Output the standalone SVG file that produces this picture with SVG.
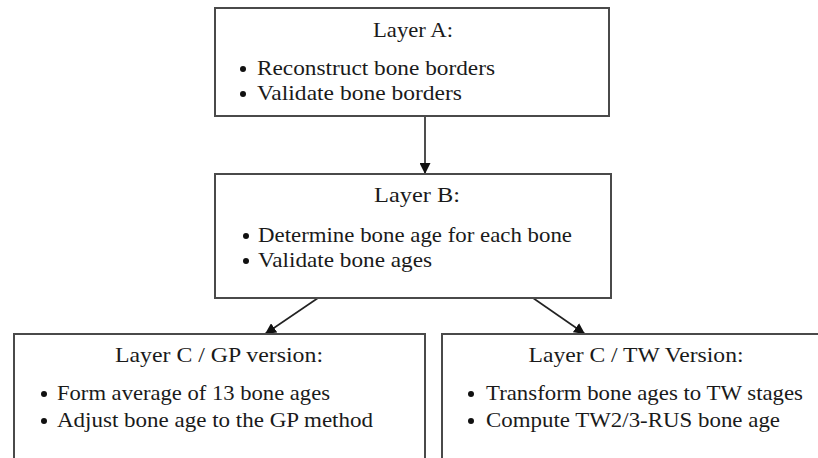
<svg xmlns="http://www.w3.org/2000/svg" width="818" height="458" viewBox="0 0 818 458">
<style>
.box{fill:#fff;stroke:#4a4a4a;stroke-width:2}
.t{font-family:"Liberation Serif","DejaVu Serif",serif;font-size:21px;fill:#1a1a1a}
.c{text-anchor:middle}
.con{stroke:#222;stroke-width:1.6;fill:none;marker-end:url(#ah)}
.b{fill:#111}
</style>
<defs>
<marker id="ah" viewBox="0 0 10 10" refX="10" refY="5" markerWidth="11" markerHeight="11" markerUnits="userSpaceOnUse" orient="auto">
<path d="M0,0 L10,5 L0,10 z" fill="#111"/>
</marker>
</defs>
<rect width="818" height="458" fill="#fff"/>
<g id="connectors">
<line class="con" x1="425" y1="116" x2="425" y2="174"/>
<line class="con" x1="318" y1="298" x2="265" y2="334"/>
<line class="con" x1="533" y1="298" x2="585" y2="334"/>
</g>
<g id="layerA">
<rect class="box" x="215" y="8" width="394" height="108"/>
<text class="t c" x="413" y="37" textLength="80" lengthAdjust="spacingAndGlyphs">Layer A:</text>
<circle class="b" cx="243" cy="69" r="3"/>
<text class="t" x="257" y="75" textLength="238" lengthAdjust="spacingAndGlyphs">Reconstruct bone borders</text>
<circle class="b" cx="243" cy="94" r="3"/>
<text class="t" x="257" y="100" textLength="205" lengthAdjust="spacingAndGlyphs">Validate bone borders</text>
</g>
<g id="layerB">
<rect class="box" x="215" y="174" width="396" height="124"/>
<text class="t c" x="417" y="202" textLength="86" lengthAdjust="spacingAndGlyphs">Layer B:</text>
<circle class="b" cx="246" cy="236" r="3"/>
<text class="t" x="258" y="242" textLength="314" lengthAdjust="spacingAndGlyphs">Determine bone age for each bone</text>
<circle class="b" cx="246" cy="261" r="3"/>
<text class="t" x="258" y="267" textLength="174" lengthAdjust="spacingAndGlyphs">Validate bone ages</text>
</g>
<g id="layerC_GP">
<rect class="box" x="14" y="334" width="411" height="140"/>
<text class="t c" x="219" y="362" textLength="208" lengthAdjust="spacingAndGlyphs">Layer C / GP version:</text>
<circle class="b" cx="44" cy="394" r="3"/>
<text class="t" x="57" y="400" textLength="273" lengthAdjust="spacingAndGlyphs">Form average of 13 bone ages</text>
<circle class="b" cx="44" cy="421" r="3"/>
<text class="t" x="57" y="427" textLength="316" lengthAdjust="spacingAndGlyphs">Adjust bone age to the GP method</text>
</g>
<g id="layerC_TW">
<rect class="box" x="442" y="334" width="400" height="140"/>
<text class="t c" x="636" y="362" textLength="215" lengthAdjust="spacingAndGlyphs">Layer C / TW Version:</text>
<circle class="b" cx="471" cy="394" r="3"/>
<text class="t" x="486" y="400" textLength="317" lengthAdjust="spacingAndGlyphs">Transform bone ages to TW stages</text>
<circle class="b" cx="471" cy="421" r="3"/>
<text class="t" x="486" y="427" textLength="294" lengthAdjust="spacingAndGlyphs">Compute TW2/3-RUS bone age</text>
</g>
</svg>
